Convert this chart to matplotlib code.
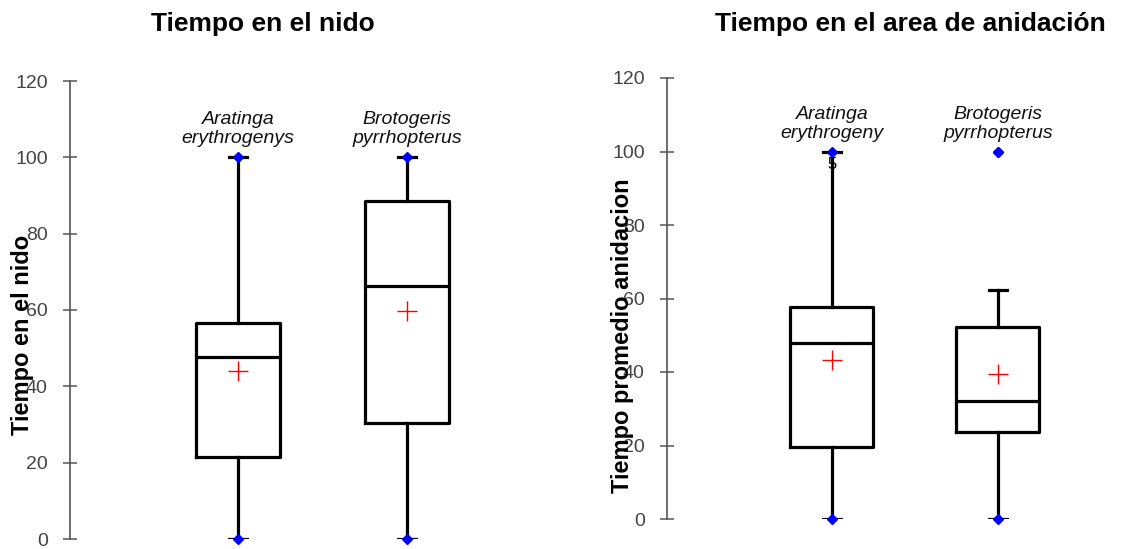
# Box plots of nesting time for two parrot species, two panels side by side.

import numpy as np
import matplotlib.pyplot as plt

species = ["Aratinga\nerythrogenys", "Brotogeris\npyrrhopterus"]
species_area = ["Aratinga\nerythrogeny", "Brotogeris\npyrrhopterus"]

# Tiempo en el nido
nido_q1 = [21.5, 30.4]
nido_med = [47.7, 66.3]
nido_q3 = [56.6, 88.5]
nido_whislo = [0.0, 0.0]
nido_whishi = [100.0, 100.0]
nido_mean = [44.0, 59.7]
nido_min = [0.0, 0.0]
nido_max = [100.0, 100.0]

# Tiempo en el area de anidacion
area_q1 = [19.6, 23.8]
area_med = [47.9, 32.1]
area_q3 = [57.7, 52.2]
area_whislo = [0.0, 0.0]
area_whishi = [100.0, 62.3]
area_mean = [43.3, 39.5]
area_min = [0.0, 0.0]
area_max = [100.0, 100.0]

yticks = [0, 20, 40, 60, 80, 100, 120]

W, H = 1121, 549
DPI = 100


def px_axes(fig, left, right, top, bottom):
    # pixel box (origin top-left) -> figure axes
    return fig.add_axes([left / W, (H - bottom) / H, (right - left) / W, (bottom - top) / H])


def panel(ax, q1, med, q3, lo, hi, mean, vmin, vmax, names, xlim, ylabel, name_y):
    stats = []
    for i in range(len(q1)):
        stats.append(dict(q1=q1[i], med=med[i], q3=q3[i], whislo=lo[i], whishi=hi[i],
                          mean=mean[i], fliers=[]))
    pos = np.arange(1, len(stats) + 1)
    lw = 2.3
    ax.bxp(stats, positions=pos, widths=0.5, showmeans=True, showfliers=False,
           capwidths=0.11,
           boxprops=dict(color="black", linewidth=lw),
           whiskerprops=dict(color="black", linewidth=lw),
           capprops=dict(color="black", linewidth=lw),
           medianprops=dict(color="black", linewidth=lw),
           meanprops=dict(marker="+", markeredgecolor="red", markersize=14,
                          markeredgewidth=1.0))
    # data extremes
    ax.plot(pos, vmin, "D", color="blue", markersize=5, clip_on=False, zorder=5)
    ax.plot(pos, vmax, "D", color="blue", markersize=5, clip_on=False, zorder=5)
    for p, name in zip(pos, names):
        ax.text(p, name_y, name, ha="center", va="center", style="italic",
                fontsize=14, linespacing=1.15, color="#111111")

    ax.set_xlim(*xlim)
    ax.set_ylim(0, 120)
    ax.set_yticks(yticks)
    ax.set_xticks([])
    for s in ("top", "right", "bottom"):
        ax.spines[s].set_visible(False)
    ax.spines["left"].set_color("#555555")
    ax.spines["left"].set_linewidth(1.2)
    ax.tick_params(axis="y", direction="inout", length=10, width=1.1, color="#555555",
                   labelsize=14, labelcolor="#444444", pad=11)
    ax.set_ylabel(ylabel, fontsize=17, fontweight="bold")
    ax.patch.set_alpha(0)


def main():
    plt.rcParams["font.family"] = ["Liberation Sans", "DejaVu Sans"]
    fig = plt.figure(figsize=(W / DPI, H / DPI), dpi=DPI)

    ax1 = px_axes(fig, 70, 540, 81, 539)
    panel(ax1, nido_q1, nido_med, nido_q3, nido_whislo, nido_whishi, nido_mean,
          nido_min, nido_max, species, (0.006, 2.787), "Tiempo en el nido", 107.5)
    ax1.yaxis.set_label_coords(-36 / 470, 0.445)

    ax2 = px_axes(fig, 667, 1110, 78, 519)
    panel(ax2, area_q1, area_med, area_q3, area_whislo, area_whishi, area_mean,
          area_min, area_max, species_area, (0.006, 2.675), "Tiempo promedio anidacion", 107.5)
    ax2.yaxis.set_label_coords(-33 / 443, 0.415)
    # outlier point for the second species
    ax2.plot([2], [100], "D", color="blue", markersize=5, zorder=5)
    ax2.text(1, 96.5, "5", ha="center", va="center", fontsize=12, zorder=1)

    fig.text(263 / W, 1 - 24 / H, "Tiempo en el nido", ha="center", va="center",
             fontsize=19, fontweight="bold")
    fig.text(910 / W, 1 - 24 / H, "Tiempo en el area de anidación", ha="center",
             va="center", fontsize=19, fontweight="bold")

    fig.savefig("out.png", dpi=DPI)


if __name__ == "__main__":
    main()
